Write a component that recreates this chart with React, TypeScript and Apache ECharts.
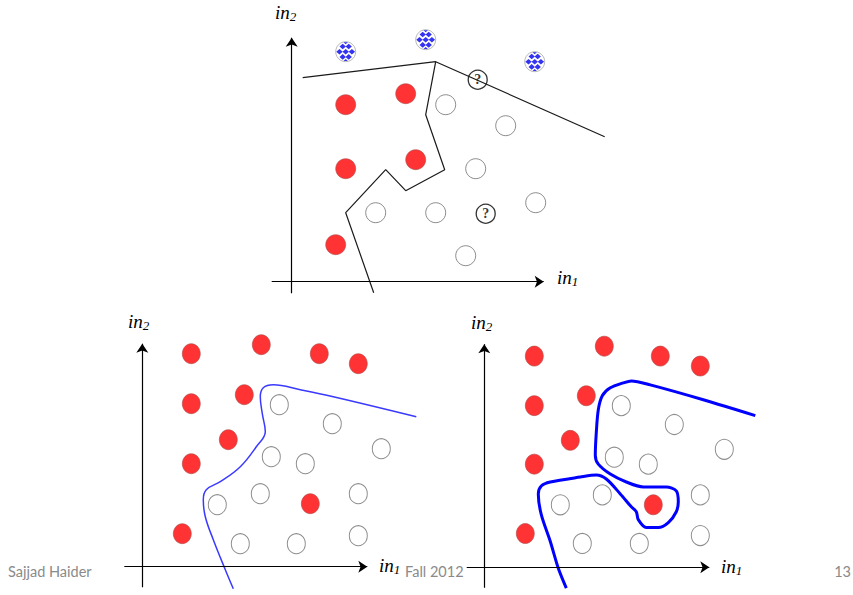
import React, { useEffect, useRef } from "react";
import * as echarts from "echarts";

// Top panel (coordinates relative to the axes' origin)
const TOP_BLUE: [number, number][] = [[54, 230], [134, 242], [243, 220]];
const TOP_RED: [number, number][] = [[54, 177], [114, 188], [54, 113], [124, 122], [44, 37]];
const TOP_WHITE: [number, number][] = [[154, 177], [214, 156], [184, 113], [84, 69], [144, 69], [244, 79], [174, 26]];
const TOP_QUERY: [number, number][] = [[186, 202], [194, 68]];
const TOP_BOUNDARY_A: [number, number][] = [[11, 204], [144, 220], [313, 145]];
const TOP_BOUNDARY_B: [number, number][] = [[144, 220], [134, 167], [153, 112], [114, 91], [94, 112], [54, 69], [82, -11]];

// Bottom-left panel
const BL_RED: [number, number][] = [[49, 213], [119, 222], [177, 213], [216, 203], [49, 163], [102, 172], [86, 127], [49, 103], [168, 63], [40, 33]];
const BL_WHITE: [number, number][] = [[137, 162], [190, 143], [239, 118], [129, 110], [163, 103], [118, 73], [75, 62], [216, 73], [98, 23], [154, 23], [216, 31]];
const BL_CURVE: [number, number][] = [[274, 150], [191, 170], [158, 177], [131, 182], [121, 179], [118, 170], [120, 153], [123, 135], [114, 120], [98, 100], [78, 85], [64, 77], [61, 67], [63, 50], [71, 27], [83, -3], [91, -22]];

// Bottom-right panel
const BR_RED: [number, number][] = [[50, 213], [120, 223], [176, 213], [216, 203], [50, 163], [102, 173], [86, 128], [50, 104], [169, 63], [41, 34]];
const BR_WHITE: [number, number][] = [[137, 163], [190, 144], [240, 119], [130, 111], [164, 104], [118, 73], [76, 63], [216, 73], [98, 24], [155, 24], [216, 32]];
const BR_CURVE: [number, number][] = [[271, 153], [219, 169], [166, 184], [147, 188], [139, 186], [126, 181], [118, 173], [114, 159], [112, 136], [111, 113], [114, 104], [126, 94], [142, 86], [159, 81], [182, 81], [192, 77], [194, 66], [192, 56], [184, 45], [174, 40], [162, 40], [154, 48], [152, 56], [147, 61], [136, 74], [122, 89], [112, 93], [96, 91], [66, 86], [57, 82], [54, 74], [57, 53], [66, 26], [74, -1], [82, -21]];

// panel frames: origin in page px, arrow-axis extents and plotting extents
const PANELS = [
  { ox: 291.7, oy: 281.7, axX: [-20, 252], axY: [-11.5, 244], gX: [-25, 330], gY: [-20, 255] },
  { ox: 142.3, oy: 566.7, axX: [-18, 225], axY: [-20.6, 223], gX: [-25, 290], gY: [-28, 235] },
  { ox: 484.3, oy: 569.3, axX: [-17.6, 225], axY: [-20.7, 225], gX: [-25, 290], gY: [-28, 235] },
];

const AXIS_LABELS = [
  { x: 275, y: 3, sub: "2" },
  { x: 557, y: 268, sub: "1" },
  { x: 128, y: 312, sub: "2" },
  { x: 379, y: 556, sub: "1" },
  { x: 471, y: 313, sub: "2" },
  { x: 721, y: 557, sub: "1" },
];

const FOOTER = [
  { text: "Sajjad Haider", x: 8, align: "left" },
  { text: "Fall 2012", x: 405, align: "left" },
  { text: "13", x: 851, align: "right" },
];

// checkered (diamond lattice) symbol drawn inside a 20px circle
function checkerPath(): string {
  const parts: string[] = [];
  const hw = 3.2;
  const hh = 2.8;
  const rows: [number, number[]][] = [
    [4.8, [7, 13]],
    [10, [3.8, 10, 16.2]],
    [15.2, [7, 13]],
  ];
  for (const [cy, xs] of rows) {
    for (const cx of xs) {
      parts.push(`M${cx} ${cy - hh}L${cx + hw} ${cy}L${cx} ${cy + hh}L${cx - hw} ${cy}Z`);
    }
  }
  parts.push("M7.8 0.6L12.2 0.6L10 2.6Z");
  parts.push("M7.8 19.4L12.2 19.4L10 17.4Z");
  return "path://" + parts.join("");
}

export default function App() {
  const ref = useRef<HTMLDivElement>(null);
  useEffect(() => {
    if (!ref.current) return;
    const chart = echarts.init(ref.current, null, { renderer: "svg" });
    const grid = PANELS.map((p) => ({
      left: p.ox + p.gX[0],
      top: p.oy - p.gY[1],
      width: p.gX[1] - p.gX[0],
      height: p.gY[1] - p.gY[0],
      containLabel: false,
    }));
    const hidden = {
      axisLine: { show: false },
      axisTick: { show: false },
      axisLabel: { show: false },
      splitLine: { show: false },
    };
    const xAxis = PANELS.map((p, i) => ({ type: "value", gridIndex: i, min: p.gX[0], max: p.gX[1], ...hidden }));
    const yAxis = PANELS.map((p, i) => ({ type: "value", gridIndex: i, min: p.gY[0], max: p.gY[1], ...hidden }));

    const redStyle = { color: "#ff0000", borderColor: "#b04848", borderWidth: 0.8 };
    const whiteStyle = { color: "#ffffff", borderColor: "#707070", borderWidth: 1 };

    const scatter = (data: [number, number][], idx: number, style: any, size: any) => ({
      type: "scatter",
      xAxisIndex: idx,
      yAxisIndex: idx,
      data,
      symbol: "circle",
      symbolSize: size,
      itemStyle: style,
      clip: false,
      silent: true,
    });
    const line = (data: [number, number][], idx: number, color: string, width: number, smooth: number | boolean) => ({
      type: "line",
      xAxisIndex: idx,
      yAxisIndex: idx,
      data,
      symbol: "none",
      smooth,
      clip: false,
      lineStyle: { color, width },
      silent: true,
    });
    const axes = (idx: number) => {
      const p = PANELS[idx];
      return {
        type: "scatter",
        xAxisIndex: idx,
        yAxisIndex: idx,
        data: [] as any[],
        silent: true,
        markLine: {
          silent: true,
          symbol: ["none", "arrow"],
          symbolSize: 9,
          label: { show: false },
          lineStyle: { type: "solid", color: "#000", width: 1.2 },
          emphasis: { disabled: true },
          data: [
            [{ coord: [p.axX[0], 0] }, { coord: [p.axX[1], 0] }],
            [{ coord: [0, p.axY[0]] }, { coord: [0, p.axY[1]] }],
          ],
        },
      };
    };

    const series: any[] = [
      axes(0),
      axes(1),
      axes(2),
      line(TOP_BOUNDARY_A, 0, "#1a1a1a", 1.2, false),
      line(TOP_BOUNDARY_B, 0, "#1a1a1a", 1.2, false),
      scatter(TOP_RED, 0, redStyle, 20),
      scatter(TOP_WHITE, 0, whiteStyle, 20),
      scatter(TOP_BLUE, 0, { color: "#ffffff", borderColor: "#909090", borderWidth: 0.8 }, 20),
      {
        ...scatter(TOP_BLUE, 0, { color: "#0000ee" }, [18.8, 18.8]),
        symbol: checkerPath(),
      },
      {
        ...scatter(TOP_QUERY, 0, { color: "#ffffff", borderColor: "#000", borderWidth: 1.3 }, 19),
        label: {
          show: true,
          position: "inside",
          formatter: "?",
          color: "#000",
          fontFamily: "Liberation Serif",
          fontWeight: "bold",
          fontSize: 14,
        },
      },
      scatter(BL_RED, 1, redStyle, [18, 20]),
      scatter(BL_WHITE, 1, whiteStyle, [18, 20]),
      line(BL_CURVE, 1, "#3a3aff", 1.5, 0.4),
      scatter(BR_RED, 2, redStyle, [18, 20]),
      scatter(BR_WHITE, 2, whiteStyle, [18, 20]),
      line(BR_CURVE, 2, "#0000ff", 3, 0.3),
    ];

    const graphic: any[] = [
      ...AXIS_LABELS.map((l) => ({
        type: "text",
        x: l.x,
        y: l.y,
        silent: true,
        style: {
          text: `{i|in}{s|${l.sub}}`,
          fill: "#000",
          rich: {
            i: { fontFamily: "Liberation Serif", fontStyle: "italic", fontSize: 19, lineHeight: 20, verticalAlign: "top", fill: "#000" },
            s: { fontFamily: "Liberation Serif", fontStyle: "italic", fontSize: 13, lineHeight: 13, verticalAlign: "bottom", padding: [10, 0, 0, 0], fill: "#000" },
          },
        },
      })),
      ...FOOTER.map((f) => ({
        type: "text",
        x: f.x,
        y: 571,
        silent: true,
        style: {
          text: f.text,
          fill: "#8a8a8a",
          fontFamily: "Lato",
          fontSize: 14.5,
          align: f.align,
          verticalAlign: "middle",
        },
      })),
    ];

    chart.setOption({
      animation: false,
      backgroundColor: "#ffffff",
      grid,
      xAxis,
      yAxis,
      series,
      graphic,
    });
    return () => chart.dispose();
  }, []);
  return (
    <div
      ref={ref}
      style={{ position: "fixed", left: 0, top: 0, width: 853, height: 595 }}
    />
  );
}
